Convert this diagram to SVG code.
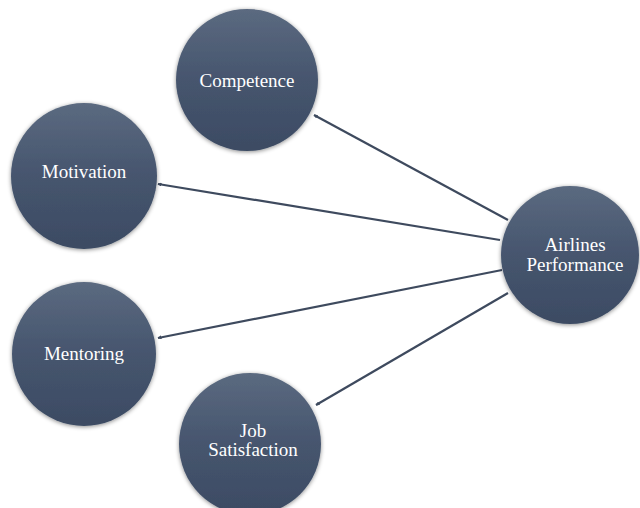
<svg xmlns="http://www.w3.org/2000/svg" width="640" height="508" viewBox="0 0 640 508">
<style>
.n{fill:url(#g);filter:url(#sh)}
.t{font-family:"Liberation Serif","Times New Roman",serif;font-size:19px;fill:#ffffff;text-anchor:middle}
.c{stroke:#3e4a5e;stroke-width:2.2;fill:none;marker-end:url(#ah)}
</style>
<defs>
<linearGradient id="g" x1="0" y1="0" x2="0" y2="1">
<stop offset="0" stop-color="#5b6a80"/>
<stop offset="0.5" stop-color="#46556e"/>
<stop offset="1" stop-color="#3c4b63"/>
</linearGradient>
<filter id="sh" x="-20%" y="-20%" width="140%" height="140%">
<feGaussianBlur in="SourceAlpha" stdDeviation="2"/>
<feOffset dx="0" dy="1" result="b"/>
<feFlood flood-color="#000" flood-opacity="0.45"/>
<feComposite in2="b" operator="in"/>
<feMerge><feMergeNode/><feMergeNode in="SourceGraphic"/></feMerge>
</filter>
<marker id="ah" markerWidth="4" markerHeight="4" refX="3.5" refY="2" orient="auto" markerUnits="userSpaceOnUse">
<path d="M0,0 L4,2 L0,4 z" fill="#3e4a5e"/>
</marker>
</defs>
<g id="connectors">
<line class="c" x1="508" y1="220" x2="314" y2="115"/>
<line class="c" x1="500" y1="240" x2="158" y2="184"/>
<line class="c" x1="502" y1="270" x2="158" y2="338"/>
<line class="c" x1="508" y1="293" x2="316" y2="405"/>
</g>
<g id="competence"><circle class="n" cx="247" cy="80" r="71"/><text class="t" x="247" y="87">Competence</text></g>
<g id="motivation"><circle class="n" cx="84" cy="176" r="73"/><text class="t" x="84" y="178">Motivation</text></g>
<g id="mentoring"><circle class="n" cx="84" cy="354" r="72"/><text class="t" x="84" y="360">Mentoring</text></g>
<g id="job-satisfaction"><circle class="n" cx="250" cy="444" r="71"/><text class="t" x="253" y="437">Job</text><text class="t" x="253" y="456">Satisfaction</text></g>
<g id="airlines-performance"><circle class="n" cx="570" cy="255" r="69"/><text class="t" x="575" y="251">Airlines</text><text class="t" x="575" y="271">Performance</text></g>
</svg>
